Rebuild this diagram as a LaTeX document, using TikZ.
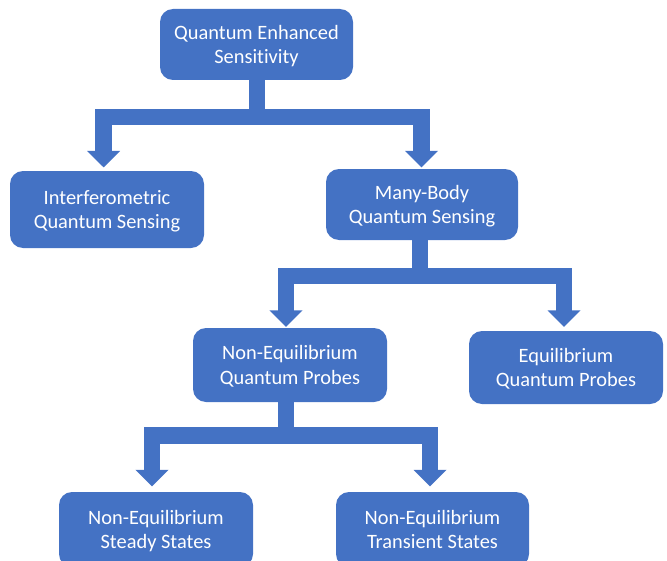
\documentclass[tikz,border=0pt]{standalone}
\usepackage{fontspec}
\setmainfont{Carlito}[Ligatures=NoCommon]
\usetikzlibrary{arrows.meta}
\definecolor{obl}{HTML}{4472C4}
\newcommand\twoln[2]{\rule{0pt}{14pt}#1\\#2\rule[-3.6pt]{0pt}{3.6pt}}
\begin{document}
\begin{tikzpicture}[x=0.75pt,y=-0.75pt,
  box/.style={fill=obl,text=white,rounded corners=9.75pt,inner sep=0pt,align=center,
    font=\fontsize{15.3}{18.3}\selectfont},
  conn/.style={draw=obl,line width=12.4pt,line join=miter,
    -{Triangle[width=24pt,length=12.4pt]}}]
\useasboundingbox (0,0) rectangle (667,560);
\clip (0,0) rectangle (667,560);
\node[box,minimum width=144.75pt,minimum height=53.25pt] (A) at (256.5,44.5) {\twoln{Quantum Enhanced}{Sensitivity}};
\node[box,minimum width=145.5pt,minimum height=57.75pt] (B) at (107,209.5) {\twoln{Interferometric}{Quantum Sensing}};
\node[box,minimum width=144pt,minimum height=53.25pt] (C) at (422,204.5) {\twoln{Many-Body}{Quantum Sensing}};
\node[box,minimum width=145.5pt,minimum height=55.5pt] (D) at (290,365) {\twoln{Non-Equilibrium}{Quantum Probes}};
\node[box,minimum width=145.5pt,minimum height=54.75pt] (E) at (566,367.5) {\twoln{Equilibrium}{Quantum Probes}};
\node[box,minimum width=145.5pt,minimum height=56.25pt] (F) at (156,529.5) {\twoln{Non-Equilibrium}{Steady States}};
\node[box,minimum width=144.75pt,minimum height=56.25pt] (G) at (432.5,529.5) {\twoln{Non-Equilibrium}{Transient States}};
% junctions and arrow tips
\coordinate (jA) at (257,117);
\coordinate (tB) at (103.7,167.5);
\coordinate (tC) at (421.5,167.5);
\coordinate (jC) at (420,276);
\coordinate (tD) at (286,327);
\coordinate (tE) at (564,327);
\coordinate (jD) at (286,435.3);
\coordinate (tF) at (152,486.5);
\coordinate (tG) at (430,486.5);
\draw[conn] (A.south -| jA) -- (jA) -| (tB);
\draw[conn] (A.south -| jA) -- (jA) -| (tC);
\draw[conn] (C.south -| jC) -- (jC) -| (tD);
\draw[conn] (C.south -| jC) -- (jC) -| (tE);
\draw[conn] (D.south -| jD) -- (jD) -| (tF);
\draw[conn] (D.south -| jD) -- (jD) -| (tG);
\end{tikzpicture}
\end{document}
